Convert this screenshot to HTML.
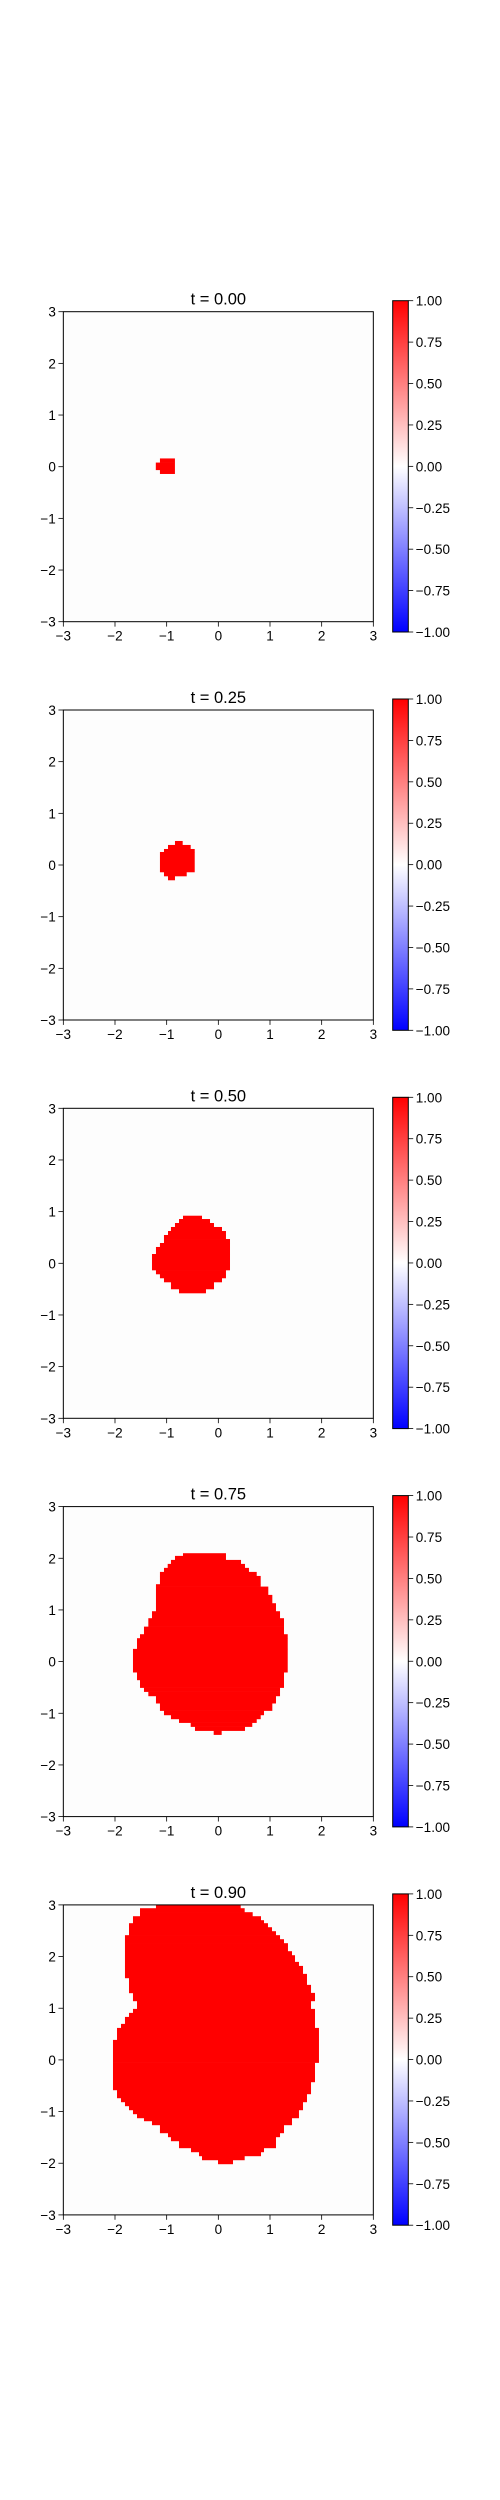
<!DOCTYPE html>
<html><head><meta charset="utf-8"><style>
html,body{margin:0;padding:0;background:#fff;width:500px;height:2500px;overflow:hidden}
svg{display:block}
text{font-family:"Liberation Sans","DejaVu Sans",sans-serif;fill:#000}
</style></head><body>
<svg id="chart" width="500" height="2500" viewBox="0 0 500 2500" xmlns="http://www.w3.org/2000/svg">
<defs><linearGradient id="bwr" x1="0" y1="1" x2="0" y2="0">
<stop offset="0" stop-color="#0000ff"/><stop offset="0.5" stop-color="#ffffff"/><stop offset="1" stop-color="#ff0000"/></linearGradient></defs>
</svg>
<script>
// data: times and region rows [yTop, yBottom, xLeft, xRight] in data units
const times = [0.00, 0.25, 0.50, 0.75, 0.90];
const axisTicks = [-3, -2, -1, 0, 1, 2, 3];
const cbarTicks = [1.00, 0.75, 0.50, 0.25, 0.00, -0.25, -0.50, -0.75, -1.00];
const rows0 = [[0.16,0.08,-1.13,-0.84],[0.08,-0.06,-1.21,-0.84],[-0.06,-0.135,-1.13,-0.84]];
const rows1 = [[0.465,0.388,-0.839,-0.69],[0.388,0.31,-0.974,-0.535],[0.31,0.252,-1.052,-0.457],[0.252,-0.135,-1.13,-0.457],[-0.135,-0.213,-1.052,-0.612],[-0.213,-0.29,-0.974,-0.839]];
const rows2 = [[0.921,0.857,-0.684,-0.316],[0.857,0.78,-0.761,-0.161],[0.78,0.703,-0.839,-0.084],[0.703,0.625,-0.917,0.071],[0.625,0.548,-0.974,0.148],[0.548,0.47,-1.052,0.148],[0.47,0.393,-1.052,0.226],[0.393,0.316,-1.13,0.226],[0.316,0.18,-1.207,0.226],[0.18,-0.13,-1.284,0.226],[-0.13,-0.207,-1.207,0.148],[-0.207,-0.284,-1.13,0.148],[-0.284,-0.362,-1.052,0.071],[-0.362,-0.497,-0.917,-0.084],[-0.497,-0.575,-0.761,-0.239]];
const rows3 = [[2.098,2.046,-0.684,0.148],[2.046,1.968,-0.839,0.148],[1.968,1.891,-0.917,0.439],[1.891,1.814,-0.98,0.516],[1.814,1.736,-1.052,0.593],[1.736,1.658,-1.13,0.743],[1.658,1.498,-1.13,0.82],[1.498,1.452,-1.207,0.82],[1.452,1.291,-1.207,0.967],[1.291,1.13,-1.207,1.045],[1.13,0.975,-1.207,1.116],[0.975,0.84,-1.284,1.194],[0.84,0.677,-1.355,1.271],[0.677,0.53,-1.439,1.271],[0.53,0.453,-1.516,1.343],[0.453,0.246,-1.574,1.343],[0.246,-0.205,-1.652,1.343],[-0.205,-0.354,-1.574,1.271],[-0.354,-0.503,-1.516,1.271],[-0.503,-0.581,-1.439,1.194],[-0.581,-0.664,-1.355,1.194],[-0.664,-0.805,-1.207,1.116],[-0.805,-0.948,-1.13,1.045],[-0.948,-1.032,-1.052,0.884],[-1.032,-1.109,-0.917,0.82],[-1.109,-1.181,-0.761,0.743],[-1.181,-1.258,-0.535,0.657],[-1.258,-1.336,-0.452,0.516],[-1.336,-1.413,-0.09,0.065]];
const rows4 = [[3,2.936,-1.207,0.433],[2.936,2.859,-1.516,0.51],[2.859,2.781,-1.516,0.665],[2.781,2.704,-1.652,0.826],[2.704,2.646,-1.652,0.884],[2.646,2.568,-1.729,0.961],[2.568,2.491,-1.729,1.039],[2.491,2.414,-1.729,1.116],[2.414,2.336,-1.807,1.194],[2.336,2.259,-1.807,1.271],[2.259,2.104,-1.807,1.348],[2.104,2.026,-1.807,1.426],[2.026,1.897,-1.807,1.484],[1.897,1.819,-1.807,1.561],[1.819,1.665,-1.807,1.639],[1.665,1.587,-1.807,1.716],[1.587,1.452,-1.729,1.716],[1.452,1.297,-1.729,1.794],[1.297,1.142,-1.652,1.871],[1.142,0.987,-1.574,1.794],[0.987,0.91,-1.652,1.871],[0.91,0.832,-1.729,1.871],[0.832,0.697,-1.807,1.871],[0.697,0.619,-1.884,1.871],[0.619,0.387,-1.961,1.948],[0.387,-0.052,-2.039,1.948],[-0.052,-0.426,-2.039,1.871],[-0.426,-0.581,-2.039,1.794],[-0.581,-0.658,-1.961,1.794],[-0.658,-0.736,-1.961,1.716],[-0.736,-0.813,-1.884,1.716],[-0.813,-0.89,-1.807,1.639],[-0.89,-0.968,-1.729,1.639],[-0.968,-1.045,-1.652,1.561],[-1.045,-1.123,-1.574,1.561],[-1.123,-1.181,-1.439,1.426],[-1.181,-1.258,-1.284,1.426],[-1.258,-1.413,-1.13,1.271],[-1.413,-1.49,-0.974,1.194],[-1.49,-1.568,-0.917,1.116],[-1.568,-1.703,-0.761,1.116],[-1.703,-1.781,-0.529,0.884],[-1.781,-1.858,-0.374,0.826],[-1.858,-1.936,-0.316,0.51],[-1.936,-2.013,-0.006,0.284]];
const panelRows = [rows0, rows1, rows2, rows3, rows4];

const svg = document.getElementById('chart');
const NS = 'http://www.w3.org/2000/svg';
const AX_L = 63.33, AX_W = 310, TOP0 = 311.7, STEP = 398.3;
const CB_X = 392.7, CB_W = 15.6;
function mk(tag, attrs, parent){const e=document.createElementNS(NS,tag);for(const k in attrs)e.setAttribute(k,attrs[k]);(parent||svg).appendChild(e);return e;}
function fmt(v,d){const s=Math.abs(v).toFixed(d);return (v<0?'\u2212':'')+s;}

times.forEach((t,k)=>{
  const T = TOP0 + STEP*k;
  const xs = v => AX_L + (v+3)/6*AX_W;
  const ys = v => T + (3-v)/6*AX_W;
  const g = mk('g',{});
  
  
  const bg = mk('rect',{x:AX_L,y:T,width:AX_W,height:AX_W,fill:'#fdfdfd'},g);
  
  
  panelRows[k].forEach(r=>{
    const y0=ys(r[0]), y1=ys(r[1]), x0=xs(r[2]), x1=xs(r[3]);
    const c = mk('rect',{x:x0,y:y0,width:x1-x0,height:y1-y0+0.3,fill:'#ff0000'},g);
    
    
  });
  const frame = mk('rect',{x:AX_L,y:T,width:AX_W,height:AX_W,fill:'none',stroke:'#000','stroke-width':1},g);
  
  
  axisTicks.forEach(v=>{
    mk('line',{x1:xs(v),x2:xs(v),y1:T+AX_W,y2:T+AX_W+4.9,stroke:'#000','stroke-width':0.8},g);
    const tx = mk('text',{x:xs(v),y:T+AX_W+19,'font-size':13.5,'text-anchor':'middle'},g);
    tx.textContent = fmt(v,0);
    
    
    mk('line',{x1:AX_L-4.9,x2:AX_L,y1:ys(v),y2:ys(v),stroke:'#000','stroke-width':0.8},g);
    const ty = mk('text',{x:AX_L-7.5,y:ys(v)+5,'font-size':13.5,'text-anchor':'end'},g);
    ty.textContent = fmt(v,0);
    
    
  });
  const title = mk('text',{x:AX_L+AX_W/2,y:T-7,'font-size':16.5,'text-anchor':'middle'},g);
  title.textContent = 't = '+t.toFixed(2);
  
  
  const cT = T-11, cH = 331.3;
  const cb = mk('rect',{x:CB_X,y:cT,width:CB_W,height:cH,fill:'url(#bwr)',stroke:'#000','stroke-width':1},g);
  
  
  cbarTicks.forEach(v=>{
    const y = cT + (1-v)/2*cH;
    mk('line',{x1:CB_X+CB_W,x2:CB_X+CB_W+4.9,y1:y,y2:y,stroke:'#000','stroke-width':0.8},g);
    const l = mk('text',{x:CB_X+CB_W+7.5,y:y+5,'font-size':13.5},g);
    l.textContent = fmt(v,2);
    
    
  });
});
</script>
</body></html>
